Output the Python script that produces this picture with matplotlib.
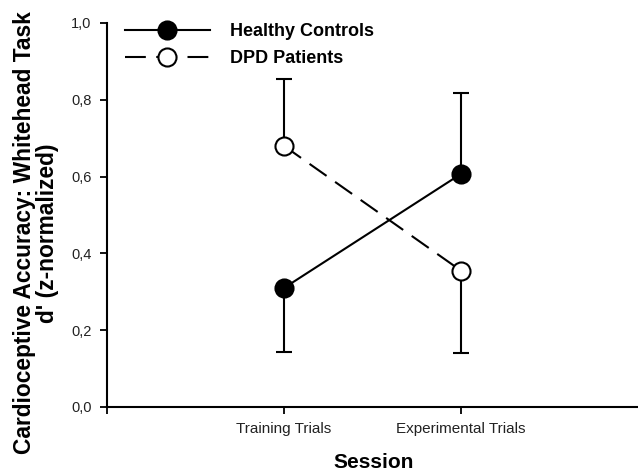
import matplotlib
matplotlib.use('Agg')
import numpy as np
import matplotlib.pyplot as plt
from matplotlib.ticker import FuncFormatter

# ------------------------------------------------------------
# data
# ------------------------------------------------------------
sessions = ['Training Trials', 'Experimental Trials']
healthy_mean = [0.31, 0.607]
healthy_err_lo = [0.167, 0.0]    # one-sided error bars
healthy_err_hi = [0.0, 0.21]
dpd_mean = [0.68, 0.355]
dpd_err_lo = [0.0, 0.215]
dpd_err_hi = [0.175, 0.0]

FONT = ['Liberation Sans', 'DejaVu Sans']
W, H = 638, 471

fig = plt.figure(figsize=(W / 100, H / 100), dpi=100)
ax = fig.add_axes([107 / W, 1 - 407 / H, 1 - 107 / W, 384 / H])

x = np.array([1, 2])
lw = 1.5


def one_sided_errbar(mean, lo, hi):
    """vertical bar + a single cap at the non-zero end."""
    mean, lo, hi = map(np.asarray, (mean, lo, hi))
    ax.vlines(x, mean - lo, mean + hi, color='black', lw=lw, zorder=2)
    cap_y = np.where(hi > 0, mean + hi, mean - lo)
    ax.plot(x, cap_y, ls='none', marker='_', markersize=12,
            markeredgewidth=lw, color='black', zorder=2)


one_sided_errbar(healthy_mean, healthy_err_lo, healthy_err_hi)
one_sided_errbar(dpd_mean, dpd_err_lo, dpd_err_hi)

ax.plot(x, healthy_mean, color='black', lw=lw, marker='o', markersize=13,
        markerfacecolor='black', markeredgecolor='black', markeredgewidth=1.5,
        label='Healthy Controls', zorder=3)
ax.plot(x, dpd_mean, color='black', lw=lw, ls=(0, (10, 5)), marker='o', markersize=13,
        markerfacecolor='white', markeredgecolor='black', markeredgewidth=1.5,
        label='DPD Patients', zorder=3)

ax.set_xlim(0, 3)
ax.set_ylim(0, 1.0)
ax.set_xticks([0, 1, 2])
ax.set_xticklabels(['', sessions[0], sessions[1]])
ax.set_yticks([0, 0.2, 0.4, 0.6, 0.8, 1.0])
ax.yaxis.set_major_formatter(FuncFormatter(lambda v, p: f'{v:.1f}'.replace('.', ',')))

for lab in ax.get_xticklabels():
    lab.set_family(FONT)
    lab.set_fontsize(11)
    lab.set_color('#222222')
for lab in ax.get_yticklabels():
    lab.set_family(FONT)
    lab.set_fontsize(10.5)
    lab.set_color('#222222')

ax.tick_params(direction='out', length=5, width=1.3, pad=6)
ax.spines['top'].set_visible(False)
ax.spines['right'].set_visible(False)
ax.spines['left'].set_linewidth(1.5)
ax.spines['bottom'].set_linewidth(1.5)

# axis titles placed in figure pixels to match the original layout
fig.text(36 / W, 1 - 233 / H,
         "Cardioceptive Accuracy: Whitehead Task\nd' (z-normalized)",
         family=FONT, fontweight='bold', fontsize=16.4, rotation=90,
         ha='center', va='center', multialignment='center', linespacing=0.95)
fig.text(374 / W, 3.5 / H, 'Session', family=FONT, fontweight='bold',
         fontsize=15, ha='center', va='baseline')

ax.legend(loc='upper left', bbox_to_anchor=(125 / W, 1 - 23 / H),
          bbox_transform=fig.transFigure, frameon=False, borderpad=0,
          borderaxespad=0, handlelength=4.7, handletextpad=1.1,
          labelspacing=0.55,
          prop={'family': FONT, 'weight': 'bold', 'size': 13})

fig.savefig('out.png', dpi=100)
